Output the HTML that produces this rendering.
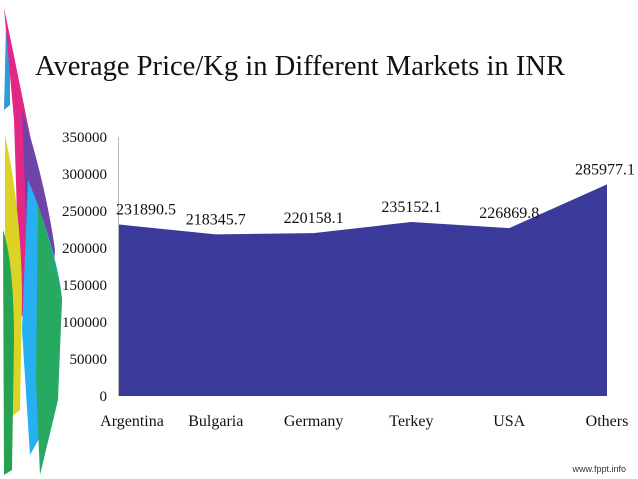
<!DOCTYPE html>
<html><head><meta charset="utf-8"><style>
body{margin:0;background:#fff;}
svg{display:block;font-family:"Liberation Serif",serif;}
</style></head><body>
<svg id="c" width="638" height="479" viewBox="0 0 638 479">
<g opacity="0.9">
<path d="M6,25 L10,70 L10,105 L4,110 Z" fill="#1a90d8"/>
<path d="M4,8 C15,60 25,110 35,160 C40,200 36,260 32,320 L20,315 C18,250 16,180 14,120 Z" fill="#e0107a"/>
<path d="M22,110 C35,150 48,200 55,250 L50,330 L30,325 Z" fill="#6030a0"/>
<path d="M28,180 C45,220 60,270 62,300 L55,410 L30,455 L22,330 Z" fill="#10a8f0"/>
<path d="M5,135 C15,180 22,240 22,300 L20,410 L10,418 L5,300 Z" fill="#d8d010"/>
<path d="M3,230 C10,250 14,290 14,340 L12,470 L4,475 Z" fill="#109840"/>
<path d="M38,205 C50,240 60,280 62,300 L58,400 L40,475 L36,380 Z" fill="#10a050"/>
</g>
<text x="35" y="75" font-size="28" textLength="530" lengthAdjust="spacingAndGlyphs" fill="#111">Average Price/Kg in Different Markets in INR</text>
<g id="plot"></g>
<text x="626" y="472" font-size="9" text-anchor="end" font-family="Liberation Sans,sans-serif" fill="#333">www.fppt.info</text>
</svg>
<script>
const categories=["Argentina","Bulgaria","Germany","Terkey","USA","Others"];
const values=[231890.5,218345.7,220158.1,235152.1,226869.8,285977.1];
const valueLabels=["231890.5","218345.7","220158.1","235152.1","226869.8","285977.1"];
const yTicks=[0,50000,100000,150000,200000,250000,300000,350000];
const ns="http://www.w3.org/2000/svg";
const g=document.getElementById('plot');
const x0=118,x1=607,yb=396,yt=137,ymax=350000;
const xs=i=>x0+i*(x1-x0)/(categories.length-1);
const ys=v=>yb-v/ymax*(yb-yt);
function mk(t,a){const e=document.createElementNS(ns,t);for(const k in a)e.setAttribute(k,a[k]);g.appendChild(e);return e;}
let d="M"+xs(0)+","+yb;
values.forEach((v,i)=>{d+=" L"+xs(i)+","+ys(v);});
d+=" L"+xs(values.length-1)+","+yb+" Z";
const area=mk('path',{d:d,fill:'#3a3a9a'});


const ax=mk('line',{x1:x0+0.5,y1:yt,x2:x0+0.5,y2:yb,stroke:'#bbb','stroke-width':1});


yTicks.forEach(t=>{
 const e=mk('text',{x:107,y:ys(t)+5,'font-size':15,'text-anchor':'end',fill:'#111'});
 e.textContent=t;
 
 
});
categories.forEach((c,i)=>{
 let cx=xs(i); if(i===0) cx+=14;
 const e=mk('text',{x:cx,y:426,'font-size':16,'text-anchor':'middle',fill:'#111'});
 e.textContent=c;
 
 
});
values.forEach((v,i)=>{
 let cx=xs(i); if(i===0) cx+=28; if(i===5) cx-=2;
 const e=mk('text',{x:cx,y:ys(v)-10,'font-size':16,'text-anchor':'middle',fill:'#111'});
 e.textContent=valueLabels[i];
 
 
});
</script>
</body></html>
